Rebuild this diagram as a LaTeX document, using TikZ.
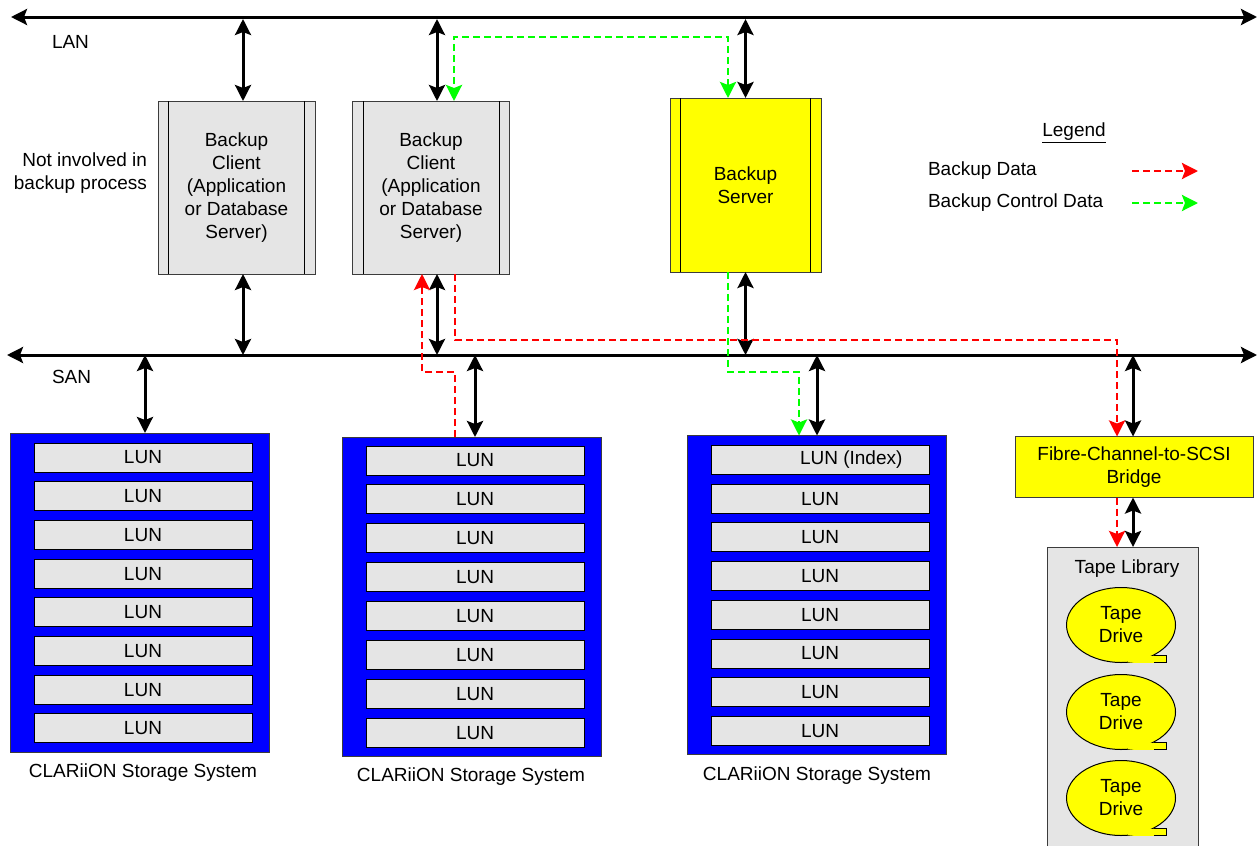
\documentclass[tikz,border=0pt]{standalone}
\usepackage{fontspec}
\setmainfont{Liberation Sans}
\usetikzlibrary{arrows.meta,shapes.geometric,calc}
\definecolor{lgray}{RGB}{229,229,229}
\definecolor{myblue}{RGB}{0,0,255}
\definecolor{mygreen}{RGB}{0,255,0}
\definecolor{myred}{RGB}{255,0,0}
\definecolor{myyellow}{RGB}{255,255,0}
\definecolor{edge}{RGB}{60,60,60}
\begin{document}
\begin{tikzpicture}[x=1pt,y=-1pt,
  every node/.style={font=\fontsize{19}{23}\selectfont, inner sep=0pt, outer sep=0pt},
  >={Stealth[length=16pt,width=16pt,inset=3pt]},
  bus/.style={line width=3pt,<->},
  dbl/.style={line width=3pt,<->},
  rdash/.style={draw=myred,line width=2.8pt,dash pattern=on 7pt off 4pt,->},
  gdash/.style={draw=mygreen,line width=2.8pt,dash pattern=on 7pt off 4pt,->},
  host/.style={draw=edge,line width=1pt,fill=lgray,minimum width=157pt,minimum height=173pt,align=center},
  srv/.style={draw=edge,line width=1pt,fill=myyellow,minimum width=151pt,minimum height=174pt,align=center},
  stor/.style={draw=edge,line width=1pt,fill=myblue,minimum width=259pt,minimum height=319pt},
  lun/.style={draw=black,line width=1pt,fill=lgray,minimum width=218pt,minimum height=29pt},
  drive/.style={ellipse,draw=black,line width=1pt,fill=myyellow,minimum width=109pt,minimum height=75pt,align=center},
  lbl/.style={align=center}
]
\useasboundingbox (0,0) rectangle (1257,846);

% buses
\coordinate (lanL) at (11,17);
\coordinate (lanR) at (1257,17);
\coordinate (sanL) at (7,355);
\coordinate (sanR) at (1257,355);
\draw[bus] (lanL) -- (lanR);
\draw[bus] (sanL) -- (sanR);
\node[anchor=west] (lan) at (52,42) {LAN};
\node[anchor=west] (san) at (52,377) {SAN};

% hosts
\node[host] (c1) at (236.5,187.5) {Backup\\Client\\(Application\\or Database\\Server)};
\node[host] (c2) at (431,187.5) {Backup\\Client\\(Application\\or Database\\Server)};
\node[srv] (sv) at (745.5,185) {Backup\\Server};
\foreach \n in {c1,c2,sv}{
  \draw[draw=black,line width=1pt] ([xshift=10.5pt]\n.north west) -- ([xshift=10.5pt]\n.south west);
  \draw[draw=black,line width=1pt] ([xshift=-10.5pt]\n.north east) -- ([xshift=-10.5pt]\n.south east);
}
\node[align=right,anchor=east] (ni) at (147,173.5) {Not involved in\\backup process};

% storage systems
\node[stor] (s1) at (139.5,592.5) {};
\node[stor] (s2) at (471.5,596.5) {};
\node[stor] (s3) at (817,595) {};
\foreach \i in {0,...,7}{
  \node[lun] (s1l\i) at (143,457.5+38.7*\i) {LUN};
  \node[lun] (s2l\i) at (475,460.5+38.9*\i) {};
  \node[lun] (s3l\i) at (820,460+38.7*\i) {};
}
\foreach \i in {0,...,7}{
  \node at (s2l\i) {LUN};
}
\foreach \i in {1,...,7}{
  \node at (s3l\i) {LUN};
}
\node[anchor=west] (idx) at ($(s3l0.center)+(-20,0)$) {LUN (Index)};
\node (t1) at (143,773) {CLARiiON Storage System};
\node (t2) at (471,777) {CLARiiON Storage System};
\node (t3) at (817,776) {CLARiiON Storage System};

% bridge and tape library
\node[draw=edge,line width=1pt,fill=myyellow,minimum width=238pt,minimum height=61pt,align=center] (br) at (1134,467) {Fibre-Channel-to-SCSI\\Bridge};
\node[fill=lgray,minimum width=151pt,minimum height=299pt,anchor=north] (tl) at (1122.5,547) {};
\draw[edge,line width=1pt] (tl.south west) -- (tl.north west) -- (tl.north east) -- (tl.south east);
\node (tlt) at (1127,569) {Tape Library};
\foreach \k/\y in {1/625,2/712,3/798}{
  \fill[myyellow] (1121,\y+37.5) rectangle (1166,\y+29.5);
  \node[drive] (td\k) at (1121,\y) {Tape\\Drive};
  \fill[myyellow] (1128,\y+36.8) rectangle (1165.5,\y+30.5);
  \draw[black,line width=1pt] (1154,\y+30) -- (1166,\y+30) -- (1166,\y+37.5) -- (1154,\y+37.5);
}

% LAN connectors
\coordinate (c1t) at ($(c1.north)+(6.5,0)$);
\coordinate (c2t) at ($(c2.north)+(6,0)$);
\coordinate (svt) at ($(sv.north)+(0,0)$);
\draw[dbl,shorten <=2pt] (c1t |- lanL) -- (c1t);
\draw[dbl,shorten <=2pt] (c2t |- lanL) -- (c2t);
\draw[dbl,shorten <=2pt] (svt |- lanL) -- (svt);

% SAN connectors
\coordinate (c1b) at ($(c1.south)+(6.5,0)$);
\coordinate (c2b) at ($(c2.south)+(6,0)$);
\coordinate (svb) at ($(sv.south)+(0,0)$);
\coordinate (s1t) at ($(s1.north)+(5.5,0)$);
\coordinate (s2t) at ($(s2.north)+(3.5,0)$);
\coordinate (s3t) at ($(s3.north)+(0,0)$);
\coordinate (brt) at ($(br.north)+(-1,0)$);
\draw[dbl] (c1b) -- (c1b |- sanL);
\draw[dbl] (c2b) -- (c2b |- sanL);
\draw[dbl] (svb) -- (svb |- sanL);
\draw[dbl] (s1t |- sanL) -- (s1t);
\draw[dbl] (s2t |- sanL) -- (s2t);
\draw[dbl] (s3t |- sanL) -- (s3t);
\draw[dbl] (brt |- sanL) -- (brt);
\coordinate (brb) at ($(br.south)+(-1,0)$);
\draw[dbl] (brb) -- (brb |- tl.north);

% control data (green)
\coordinate (gy1) at (0,37);
\coordinate (gy2) at (0,372);
\coordinate (g1) at ($(sv.north)+(-17.5,0)$);
\coordinate (g2) at ($(c2.north)+(23,0)$);
\coordinate (g3) at ($(sv.south)+(-17.5,0)$);
\coordinate (g4) at ($(s3.north)+(-18,0)$);
\draw[gdash,<->] (g1) -- (g1 |- gy1) -| (g2);
\draw[gdash] (g3) -- (g3 |- gy2) -| (g4);

% backup data (red)
\coordinate (ry1) at (0,340);
\coordinate (r1) at ($(c2.south)+(24,0)$);
\coordinate (r2) at ($(br.north)+(-17,0)$);
\coordinate (r3) at ($(s2.north)+(-16.5,0)$);
\coordinate (r4) at ($(c2.south)+(-9,0)$);
\coordinate (r5) at ($(br.south)+(-17,0)$);
\draw[rdash] (r1) -- (r1 |- ry1) -| (r2);
\draw[rdash] (r3) -- (r3 |- gy2) -| (r4);
\draw[rdash] (r5) -- (r5 |- tl.north);

% legend
\node (lg) at (1074,133) {\underline{Legend}};
\node[anchor=west] (lbd) at (928,171) {Backup Data};
\node[anchor=west] (lbc) at (928,203) {Backup Control Data};
\coordinate (la1) at (1132,171);
\coordinate (la2) at (1198,171);
\coordinate (la3) at (1132,203);
\coordinate (la4) at (1198,203);
\draw[rdash] (la1) -- (la2);
\draw[gdash] (la3) -- (la4);
\end{tikzpicture}
\end{document}
